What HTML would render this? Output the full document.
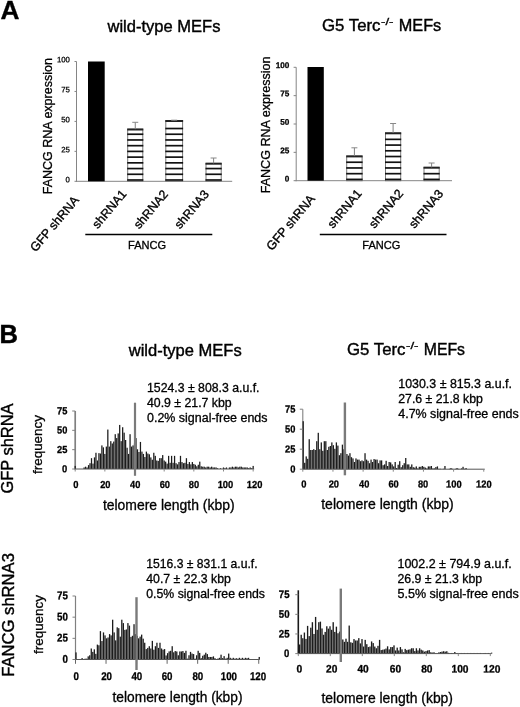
<!DOCTYPE html>
<html lang="en"><head><meta charset="utf-8"><title>Figure</title>
<style>
html,body{margin:0;padding:0;background:#fff;}
svg{display:block;font-family:'Liberation Sans', Arial, Helvetica, sans-serif;}
</style></head><body>
<svg width="520" height="707" viewBox="0 0 520 707">
<rect x="0" y="0" width="520" height="707" fill="#fff"/>
<line x1="76.5" y1="61.5" x2="76.5" y2="181.8" stroke="#858585" stroke-width="1"/>
<line x1="76.0" y1="181.3" x2="232.2" y2="181.3" stroke="#858585" stroke-width="1"/>
<line x1="74.5" y1="61.5" x2="76.5" y2="61.5" stroke="#858585" stroke-width="1"/>
<text x="69.9" y="62.4" font-size="7.8" text-anchor="end" font-weight="normal" fill="#000" stroke="#000" stroke-width="0.25" transform="rotate(0.3 69.9 62.4)">100</text>
<line x1="74.5" y1="91.45" x2="76.5" y2="91.45" stroke="#858585" stroke-width="1"/>
<text x="69.9" y="92.4" font-size="7.8" text-anchor="end" font-weight="normal" fill="#000" stroke="#000" stroke-width="0.25" transform="rotate(0.3 69.9 92.4)">75</text>
<line x1="74.5" y1="121.4" x2="76.5" y2="121.4" stroke="#858585" stroke-width="1"/>
<text x="69.9" y="122.3" font-size="7.8" text-anchor="end" font-weight="normal" fill="#000" stroke="#000" stroke-width="0.25" transform="rotate(0.3 69.9 122.3)">50</text>
<line x1="74.5" y1="151.35000000000002" x2="76.5" y2="151.35000000000002" stroke="#858585" stroke-width="1"/>
<text x="69.9" y="152.3" font-size="7.8" text-anchor="end" font-weight="normal" fill="#000" stroke="#000" stroke-width="0.25" transform="rotate(0.3 69.9 152.3)">25</text>
<line x1="74.5" y1="181.3" x2="76.5" y2="181.3" stroke="#858585" stroke-width="1"/>
<text x="69.9" y="182.2" font-size="7.8" text-anchor="end" font-weight="normal" fill="#000" stroke="#000" stroke-width="0.25" transform="rotate(0.3 69.9 182.2)">0</text>
<rect x="88" y="61.5" width="16.700000000000003" height="119.80000000000001" fill="#000"/>
<rect x="127.7" y="129.2" width="15.100000000000009" height="52.10000000000002" fill="#fff" stroke="#777" stroke-width="1"/>
<line x1="127.2" y1="180.0" x2="143.3" y2="180.0" stroke="#111" stroke-width="1.7"/>
<line x1="127.2" y1="174.28" x2="143.3" y2="174.28" stroke="#111" stroke-width="1.7"/>
<line x1="127.2" y1="168.56" x2="143.3" y2="168.56" stroke="#111" stroke-width="1.7"/>
<line x1="127.2" y1="162.84" x2="143.3" y2="162.84" stroke="#111" stroke-width="1.7"/>
<line x1="127.2" y1="157.12" x2="143.3" y2="157.12" stroke="#111" stroke-width="1.7"/>
<line x1="127.2" y1="151.4" x2="143.3" y2="151.4" stroke="#111" stroke-width="1.7"/>
<line x1="127.2" y1="145.68" x2="143.3" y2="145.68" stroke="#111" stroke-width="1.7"/>
<line x1="127.2" y1="139.96" x2="143.3" y2="139.96" stroke="#111" stroke-width="1.7"/>
<line x1="127.2" y1="134.24" x2="143.3" y2="134.24" stroke="#111" stroke-width="1.7"/>
<line x1="127.2" y1="129.5" x2="143.3" y2="129.5" stroke="#222" stroke-width="2.0"/>
<line x1="135.25" y1="129.2" x2="135.25" y2="122.3" stroke="#808080" stroke-width="1"/>
<line x1="132.25" y1="122.3" x2="138.25" y2="122.3" stroke="#888" stroke-width="1"/>
<rect x="165.8" y="120.7" width="16.799999999999983" height="60.60000000000001" fill="#fff" stroke="#777" stroke-width="1"/>
<line x1="165.3" y1="180.0" x2="183.1" y2="180.0" stroke="#111" stroke-width="1.7"/>
<line x1="165.3" y1="174.28" x2="183.1" y2="174.28" stroke="#111" stroke-width="1.7"/>
<line x1="165.3" y1="168.56" x2="183.1" y2="168.56" stroke="#111" stroke-width="1.7"/>
<line x1="165.3" y1="162.84" x2="183.1" y2="162.84" stroke="#111" stroke-width="1.7"/>
<line x1="165.3" y1="157.12" x2="183.1" y2="157.12" stroke="#111" stroke-width="1.7"/>
<line x1="165.3" y1="151.4" x2="183.1" y2="151.4" stroke="#111" stroke-width="1.7"/>
<line x1="165.3" y1="145.68" x2="183.1" y2="145.68" stroke="#111" stroke-width="1.7"/>
<line x1="165.3" y1="139.96" x2="183.1" y2="139.96" stroke="#111" stroke-width="1.7"/>
<line x1="165.3" y1="134.24" x2="183.1" y2="134.24" stroke="#111" stroke-width="1.7"/>
<line x1="165.3" y1="128.52" x2="183.1" y2="128.52" stroke="#111" stroke-width="1.7"/>
<line x1="165.3" y1="121.0" x2="183.1" y2="121.0" stroke="#222" stroke-width="2.0"/>
<line x1="174.2" y1="120.7" x2="174.2" y2="120.2" stroke="#808080" stroke-width="1"/>
<line x1="171.2" y1="120.2" x2="177.2" y2="120.2" stroke="#888" stroke-width="1"/>
<rect x="206.0" y="163.4" width="15.199999999999989" height="17.900000000000006" fill="#fff" stroke="#777" stroke-width="1"/>
<line x1="205.5" y1="180.0" x2="221.7" y2="180.0" stroke="#111" stroke-width="1.7"/>
<line x1="205.5" y1="174.28" x2="221.7" y2="174.28" stroke="#111" stroke-width="1.7"/>
<line x1="205.5" y1="168.56" x2="221.7" y2="168.56" stroke="#111" stroke-width="1.7"/>
<line x1="205.5" y1="163.70000000000002" x2="221.7" y2="163.70000000000002" stroke="#222" stroke-width="2.0"/>
<line x1="213.6" y1="163.4" x2="213.6" y2="158" stroke="#808080" stroke-width="1"/>
<line x1="210.6" y1="158" x2="216.6" y2="158" stroke="#888" stroke-width="1"/>
<text x="51.7" y="194.3" font-size="12.5" text-anchor="start" font-weight="normal" fill="#000" stroke="#000" stroke-width="0.3" transform="rotate(-90 51.7 194.3)" textLength="136.2" lengthAdjust="spacingAndGlyphs">FANCG RNA expression</text>
<text x="107.5" y="31.6" font-size="16.5" text-anchor="start" font-weight="normal" fill="#000" stroke="#000" stroke-width="0.4" textLength="113" lengthAdjust="spacingAndGlyphs">wild-type MEFs</text>
<text x="0.5" y="18.7" font-size="25" text-anchor="start" font-weight="bold" fill="#000" stroke="#000" stroke-width="0.3" textLength="19" lengthAdjust="spacingAndGlyphs">A</text>
<text x="35.8" y="252.5" font-size="12.4" text-anchor="start" font-weight="normal" fill="#000" stroke="#000" stroke-width="0.35" transform="rotate(-50 35.8 252.5)">GFP shRNA</text>
<text x="97.8" y="229.3" font-size="12.3" text-anchor="start" font-weight="normal" fill="#000" stroke="#000" stroke-width="0.35" transform="rotate(-50 97.8 229.3)">shRNA1</text>
<text x="139.3" y="229.6" font-size="12.3" text-anchor="start" font-weight="normal" fill="#000" stroke="#000" stroke-width="0.35" transform="rotate(-50 139.3 229.6)">shRNA2</text>
<text x="180.1" y="229.6" font-size="12.3" text-anchor="start" font-weight="normal" fill="#000" stroke="#000" stroke-width="0.35" transform="rotate(-50 180.1 229.6)">shRNA3</text>
<line x1="85.3" y1="234.5" x2="212.3" y2="234.5" stroke="#000" stroke-width="1.5"/>
<text x="128.1" y="249.2" font-size="11" text-anchor="start" font-weight="normal" fill="#000" stroke="#000" stroke-width="0.3" textLength="38.1" lengthAdjust="spacingAndGlyphs">FANCG</text>
<line x1="296.2" y1="67.3" x2="296.2" y2="181.2" stroke="#858585" stroke-width="1"/>
<line x1="295.7" y1="180.7" x2="452" y2="180.7" stroke="#858585" stroke-width="1"/>
<line x1="293.59999999999997" y1="67.3" x2="296.2" y2="67.3" stroke="#858585" stroke-width="1"/>
<text x="289.3" y="68.1" font-size="8.2" text-anchor="end" font-weight="bold" fill="#000" stroke="#000" stroke-width="0.25" transform="rotate(0.3 289.3 68.1)">100</text>
<line x1="293.59999999999997" y1="95.64999999999999" x2="296.2" y2="95.64999999999999" stroke="#858585" stroke-width="1"/>
<text x="289.3" y="96.4" font-size="8.2" text-anchor="end" font-weight="bold" fill="#000" stroke="#000" stroke-width="0.25" transform="rotate(0.3 289.3 96.4)">75</text>
<line x1="293.59999999999997" y1="124.0" x2="296.2" y2="124.0" stroke="#858585" stroke-width="1"/>
<text x="289.3" y="124.8" font-size="8.2" text-anchor="end" font-weight="bold" fill="#000" stroke="#000" stroke-width="0.25" transform="rotate(0.3 289.3 124.8)">50</text>
<line x1="293.59999999999997" y1="152.35" x2="296.2" y2="152.35" stroke="#858585" stroke-width="1"/>
<text x="289.3" y="153.2" font-size="8.2" text-anchor="end" font-weight="bold" fill="#000" stroke="#000" stroke-width="0.25" transform="rotate(0.3 289.3 153.2)">25</text>
<line x1="293.59999999999997" y1="180.7" x2="296.2" y2="180.7" stroke="#858585" stroke-width="1"/>
<text x="289.3" y="181.5" font-size="8.2" text-anchor="end" font-weight="bold" fill="#000" stroke="#000" stroke-width="0.25" transform="rotate(0.3 289.3 181.5)">0</text>
<rect x="307.5" y="67" width="16.30000000000001" height="113.69999999999999" fill="#000"/>
<rect x="346.7" y="156.1" width="15.400000000000034" height="24.599999999999994" fill="#fff" stroke="#777" stroke-width="1"/>
<line x1="346.2" y1="179.4" x2="362.6" y2="179.4" stroke="#111" stroke-width="1.7"/>
<line x1="346.2" y1="173.68" x2="362.6" y2="173.68" stroke="#111" stroke-width="1.7"/>
<line x1="346.2" y1="167.96" x2="362.6" y2="167.96" stroke="#111" stroke-width="1.7"/>
<line x1="346.2" y1="162.24" x2="362.6" y2="162.24" stroke="#111" stroke-width="1.7"/>
<line x1="346.2" y1="156.4" x2="362.6" y2="156.4" stroke="#222" stroke-width="2.0"/>
<line x1="354.4" y1="156.1" x2="354.4" y2="147.8" stroke="#808080" stroke-width="1"/>
<line x1="351.4" y1="147.8" x2="357.4" y2="147.8" stroke="#888" stroke-width="1"/>
<rect x="385.5" y="133" width="15.199999999999989" height="47.69999999999999" fill="#fff" stroke="#777" stroke-width="1"/>
<line x1="385" y1="179.4" x2="401.2" y2="179.4" stroke="#111" stroke-width="1.7"/>
<line x1="385" y1="173.68" x2="401.2" y2="173.68" stroke="#111" stroke-width="1.7"/>
<line x1="385" y1="167.96" x2="401.2" y2="167.96" stroke="#111" stroke-width="1.7"/>
<line x1="385" y1="162.24" x2="401.2" y2="162.24" stroke="#111" stroke-width="1.7"/>
<line x1="385" y1="156.52" x2="401.2" y2="156.52" stroke="#111" stroke-width="1.7"/>
<line x1="385" y1="150.8" x2="401.2" y2="150.8" stroke="#111" stroke-width="1.7"/>
<line x1="385" y1="145.08" x2="401.2" y2="145.08" stroke="#111" stroke-width="1.7"/>
<line x1="385" y1="139.36" x2="401.2" y2="139.36" stroke="#111" stroke-width="1.7"/>
<line x1="385" y1="133.3" x2="401.2" y2="133.3" stroke="#222" stroke-width="2.0"/>
<line x1="393.1" y1="133" x2="393.1" y2="123.5" stroke="#808080" stroke-width="1"/>
<line x1="390.1" y1="123.5" x2="396.1" y2="123.5" stroke="#888" stroke-width="1"/>
<rect x="424.0" y="167.4" width="15.199999999999989" height="13.299999999999983" fill="#fff" stroke="#777" stroke-width="1"/>
<line x1="423.5" y1="179.4" x2="439.7" y2="179.4" stroke="#111" stroke-width="1.7"/>
<line x1="423.5" y1="173.68" x2="439.7" y2="173.68" stroke="#111" stroke-width="1.7"/>
<line x1="423.5" y1="167.70000000000002" x2="439.7" y2="167.70000000000002" stroke="#222" stroke-width="2.0"/>
<line x1="431.6" y1="167.4" x2="431.6" y2="163" stroke="#808080" stroke-width="1"/>
<line x1="428.6" y1="163" x2="434.6" y2="163" stroke="#888" stroke-width="1"/>
<text x="269.8" y="193.3" font-size="12.5" text-anchor="start" font-weight="normal" fill="#000" stroke="#000" stroke-width="0.3" transform="rotate(-90 269.8 193.3)" textLength="136.8" lengthAdjust="spacingAndGlyphs">FANCG RNA expression</text>
<text x="322" y="30.5" font-size="16.5" text-anchor="start" font-weight="normal" fill="#000" stroke="#000" stroke-width="0.4" textLength="58.5" lengthAdjust="spacingAndGlyphs">G5 Terc</text>
<text x="381" y="25.3" font-size="9.6" text-anchor="start" font-weight="normal" fill="#000" stroke="#000" stroke-width="0.3" textLength="12.5" lengthAdjust="spacingAndGlyphs">-/-</text>
<text x="398.75" y="30.5" font-size="16.5" text-anchor="start" font-weight="normal" fill="#000" stroke="#000" stroke-width="0.4" textLength="42.5" lengthAdjust="spacingAndGlyphs">MEFs</text>
<text x="272" y="251.2" font-size="12.4" text-anchor="start" font-weight="normal" fill="#000" stroke="#000" stroke-width="0.35" transform="rotate(-50 272 251.2)">GFP shRNA</text>
<text x="333" y="228.9" font-size="12.3" text-anchor="start" font-weight="normal" fill="#000" stroke="#000" stroke-width="0.35" transform="rotate(-50 333 228.9)">shRNA1</text>
<text x="374.5" y="228.9" font-size="12.3" text-anchor="start" font-weight="normal" fill="#000" stroke="#000" stroke-width="0.35" transform="rotate(-50 374.5 228.9)">shRNA2</text>
<text x="414.5" y="229.1" font-size="12.3" text-anchor="start" font-weight="normal" fill="#000" stroke="#000" stroke-width="0.35" transform="rotate(-50 414.5 229.1)">shRNA3</text>
<line x1="319.8" y1="234.5" x2="446.5" y2="234.5" stroke="#000" stroke-width="1.5"/>
<text x="362.3" y="249.2" font-size="11" text-anchor="start" font-weight="normal" fill="#000" stroke="#000" stroke-width="0.3" textLength="38.1" lengthAdjust="spacingAndGlyphs">FANCG</text>
<text x="-0.4" y="343" font-size="25.5" text-anchor="start" font-weight="bold" fill="#000" stroke="#000" stroke-width="0.5">B</text>
<text x="128.75" y="355.9" font-size="16.5" text-anchor="start" font-weight="normal" fill="#000" stroke="#000" stroke-width="0.4" textLength="113" lengthAdjust="spacingAndGlyphs">wild-type MEFs</text>
<text x="347" y="355" font-size="16.5" text-anchor="start" font-weight="normal" fill="#000" stroke="#000" stroke-width="0.4" textLength="58.5" lengthAdjust="spacingAndGlyphs">G5 Terc</text>
<text x="406" y="348.7" font-size="9.6" text-anchor="start" font-weight="normal" fill="#000" stroke="#000" stroke-width="0.3" textLength="12.5" lengthAdjust="spacingAndGlyphs">-/-</text>
<text x="423.75" y="355" font-size="16.5" text-anchor="start" font-weight="normal" fill="#000" stroke="#000" stroke-width="0.4" textLength="41.25" lengthAdjust="spacingAndGlyphs">MEFs</text>
<line x1="75.2" y1="411" x2="75.2" y2="469.5" stroke="#808080" stroke-width="1.7"/>
<rect x="74.57" y="465.91" width="1.26" height="3.09" fill="#1c1c1c"/>
<rect x="83.47" y="467.45" width="1.26" height="1.55" fill="#1c1c1c"/>
<rect x="84.95" y="466.68" width="1.26" height="2.32" fill="#1c1c1c"/>
<rect x="86.43" y="467.45" width="1.26" height="1.55" fill="#1c1c1c"/>
<rect x="87.92" y="465.13" width="1.26" height="3.87" fill="#1c1c1c"/>
<rect x="89.4" y="463.2" width="1.26" height="5.8" fill="#1c1c1c"/>
<rect x="90.88" y="458.17" width="1.26" height="10.83" fill="#1c1c1c"/>
<rect x="92.37" y="463.59" width="1.26" height="5.41" fill="#1c1c1c"/>
<rect x="93.85" y="457.4" width="1.26" height="11.6" fill="#1c1c1c"/>
<rect x="95.33" y="452.76" width="1.26" height="16.24" fill="#1c1c1c"/>
<rect x="96.82" y="460.49" width="1.26" height="8.51" fill="#1c1c1c"/>
<rect x="98.3" y="453.15" width="1.26" height="15.85" fill="#1c1c1c"/>
<rect x="99.78" y="453.53" width="1.26" height="15.47" fill="#1c1c1c"/>
<rect x="101.26" y="445.41" width="1.26" height="23.59" fill="#1c1c1c"/>
<rect x="102.75" y="447.35" width="1.26" height="21.65" fill="#1c1c1c"/>
<rect x="104.23" y="453.92" width="1.26" height="15.08" fill="#1c1c1c"/>
<rect x="105.71" y="446.57" width="1.26" height="22.43" fill="#1c1c1c"/>
<rect x="107.2" y="429.56" width="1.26" height="39.44" fill="#1c1c1c"/>
<rect x="108.68" y="446.57" width="1.26" height="22.43" fill="#1c1c1c"/>
<rect x="110.16" y="441.16" width="1.26" height="27.84" fill="#1c1c1c"/>
<rect x="111.65" y="443.48" width="1.26" height="25.52" fill="#1c1c1c"/>
<rect x="113.13" y="441.55" width="1.26" height="27.45" fill="#1c1c1c"/>
<rect x="114.61" y="434.2" width="1.26" height="34.8" fill="#1c1c1c"/>
<rect x="116.09" y="438.07" width="1.26" height="30.93" fill="#1c1c1c"/>
<rect x="117.58" y="433.43" width="1.26" height="35.57" fill="#1c1c1c"/>
<rect x="119.06" y="424.92" width="1.26" height="44.08" fill="#1c1c1c"/>
<rect x="120.54" y="441.16" width="1.26" height="27.84" fill="#1c1c1c"/>
<rect x="122.03" y="427.24" width="1.26" height="41.76" fill="#1c1c1c"/>
<rect x="123.51" y="432.65" width="1.26" height="36.35" fill="#1c1c1c"/>
<rect x="124.99" y="440.0" width="1.26" height="29.0" fill="#1c1c1c"/>
<rect x="126.48" y="447.73" width="1.26" height="21.27" fill="#1c1c1c"/>
<rect x="127.96" y="453.92" width="1.26" height="15.08" fill="#1c1c1c"/>
<rect x="129.44" y="434.2" width="1.26" height="34.8" fill="#1c1c1c"/>
<rect x="130.92" y="446.57" width="1.26" height="22.43" fill="#1c1c1c"/>
<rect x="132.41" y="445.41" width="1.26" height="23.59" fill="#1c1c1c"/>
<rect x="133.89" y="443.48" width="1.26" height="25.52" fill="#1c1c1c"/>
<rect x="135.37" y="438.07" width="1.26" height="30.93" fill="#1c1c1c"/>
<rect x="136.86" y="449.28" width="1.26" height="19.72" fill="#1c1c1c"/>
<rect x="138.34" y="451.99" width="1.26" height="17.01" fill="#1c1c1c"/>
<rect x="139.82" y="441.93" width="1.26" height="27.07" fill="#1c1c1c"/>
<rect x="141.31" y="451.6" width="1.26" height="17.4" fill="#1c1c1c"/>
<rect x="142.79" y="453.92" width="1.26" height="15.08" fill="#1c1c1c"/>
<rect x="144.27" y="457.01" width="1.26" height="11.99" fill="#1c1c1c"/>
<rect x="145.75" y="451.6" width="1.26" height="17.4" fill="#1c1c1c"/>
<rect x="147.24" y="453.53" width="1.26" height="15.47" fill="#1c1c1c"/>
<rect x="148.72" y="454.31" width="1.26" height="14.69" fill="#1c1c1c"/>
<rect x="150.2" y="457.4" width="1.26" height="11.6" fill="#1c1c1c"/>
<rect x="151.69" y="459.72" width="1.26" height="9.28" fill="#1c1c1c"/>
<rect x="153.17" y="452.76" width="1.26" height="16.24" fill="#1c1c1c"/>
<rect x="154.65" y="455.85" width="1.26" height="13.15" fill="#1c1c1c"/>
<rect x="156.14" y="460.49" width="1.26" height="8.51" fill="#1c1c1c"/>
<rect x="157.62" y="460.88" width="1.26" height="8.12" fill="#1c1c1c"/>
<rect x="159.1" y="458.17" width="1.26" height="10.83" fill="#1c1c1c"/>
<rect x="160.58" y="458.17" width="1.26" height="10.83" fill="#1c1c1c"/>
<rect x="162.07" y="455.08" width="1.26" height="13.92" fill="#1c1c1c"/>
<rect x="163.55" y="460.49" width="1.26" height="8.51" fill="#1c1c1c"/>
<rect x="165.03" y="461.65" width="1.26" height="7.35" fill="#1c1c1c"/>
<rect x="166.52" y="463.59" width="1.26" height="5.41" fill="#1c1c1c"/>
<rect x="168.0" y="455.85" width="1.26" height="13.15" fill="#1c1c1c"/>
<rect x="169.48" y="462.81" width="1.26" height="6.19" fill="#1c1c1c"/>
<rect x="170.97" y="455.85" width="1.26" height="13.15" fill="#1c1c1c"/>
<rect x="172.45" y="462.81" width="1.26" height="6.19" fill="#1c1c1c"/>
<rect x="173.93" y="455.85" width="1.26" height="13.15" fill="#1c1c1c"/>
<rect x="175.41" y="463.2" width="1.26" height="5.8" fill="#1c1c1c"/>
<rect x="176.9" y="464.36" width="1.26" height="4.64" fill="#1c1c1c"/>
<rect x="178.38" y="462.04" width="1.26" height="6.96" fill="#1c1c1c"/>
<rect x="179.86" y="455.85" width="1.26" height="13.15" fill="#1c1c1c"/>
<rect x="181.35" y="462.04" width="1.26" height="6.96" fill="#1c1c1c"/>
<rect x="182.83" y="463.2" width="1.26" height="5.8" fill="#1c1c1c"/>
<rect x="184.31" y="462.81" width="1.26" height="6.19" fill="#1c1c1c"/>
<rect x="185.8" y="458.17" width="1.26" height="10.83" fill="#1c1c1c"/>
<rect x="187.28" y="463.97" width="1.26" height="5.03" fill="#1c1c1c"/>
<rect x="188.76" y="462.04" width="1.26" height="6.96" fill="#1c1c1c"/>
<rect x="190.24" y="464.36" width="1.26" height="4.64" fill="#1c1c1c"/>
<rect x="191.73" y="462.04" width="1.26" height="6.96" fill="#1c1c1c"/>
<rect x="193.21" y="463.97" width="1.26" height="5.03" fill="#1c1c1c"/>
<rect x="194.69" y="464.75" width="1.26" height="4.25" fill="#1c1c1c"/>
<rect x="196.18" y="466.29" width="1.26" height="2.71" fill="#1c1c1c"/>
<rect x="197.66" y="464.75" width="1.26" height="4.25" fill="#1c1c1c"/>
<rect x="199.14" y="461.65" width="1.26" height="7.35" fill="#1c1c1c"/>
<rect x="200.62" y="466.29" width="1.26" height="2.71" fill="#1c1c1c"/>
<rect x="202.11" y="466.68" width="1.26" height="2.32" fill="#1c1c1c"/>
<rect x="203.59" y="466.68" width="1.26" height="2.32" fill="#1c1c1c"/>
<rect x="205.07" y="467.45" width="1.26" height="1.55" fill="#1c1c1c"/>
<rect x="206.56" y="466.68" width="1.26" height="2.32" fill="#1c1c1c"/>
<rect x="208.04" y="466.68" width="1.26" height="2.32" fill="#1c1c1c"/>
<rect x="209.52" y="467.45" width="1.26" height="1.55" fill="#1c1c1c"/>
<rect x="211.01" y="466.68" width="1.26" height="2.32" fill="#1c1c1c"/>
<rect x="212.49" y="467.45" width="1.26" height="1.55" fill="#1c1c1c"/>
<rect x="213.97" y="467.45" width="1.26" height="1.55" fill="#1c1c1c"/>
<rect x="215.46" y="467.45" width="1.26" height="1.55" fill="#1c1c1c"/>
<rect x="216.94" y="468.23" width="1.26" height="0.77" fill="#1c1c1c"/>
<rect x="219.9" y="468.23" width="1.26" height="0.77" fill="#1c1c1c"/>
<rect x="222.87" y="467.45" width="1.26" height="1.55" fill="#1c1c1c"/>
<rect x="224.35" y="468.23" width="1.26" height="0.77" fill="#1c1c1c"/>
<rect x="225.84" y="467.45" width="1.26" height="1.55" fill="#1c1c1c"/>
<rect x="228.8" y="467.45" width="1.26" height="1.55" fill="#1c1c1c"/>
<rect x="230.29" y="467.45" width="1.26" height="1.55" fill="#1c1c1c"/>
<rect x="231.77" y="466.68" width="1.26" height="2.32" fill="#1c1c1c"/>
<rect x="233.25" y="467.45" width="1.26" height="1.55" fill="#1c1c1c"/>
<rect x="234.73" y="466.68" width="1.26" height="2.32" fill="#1c1c1c"/>
<rect x="236.22" y="466.68" width="1.26" height="2.32" fill="#1c1c1c"/>
<rect x="237.7" y="467.45" width="1.26" height="1.55" fill="#1c1c1c"/>
<rect x="239.18" y="466.68" width="1.26" height="2.32" fill="#1c1c1c"/>
<rect x="240.67" y="466.68" width="1.26" height="2.32" fill="#1c1c1c"/>
<rect x="242.15" y="467.45" width="1.26" height="1.55" fill="#1c1c1c"/>
<rect x="243.63" y="467.45" width="1.26" height="1.55" fill="#1c1c1c"/>
<rect x="245.12" y="467.45" width="1.26" height="1.55" fill="#1c1c1c"/>
<rect x="246.6" y="467.45" width="1.26" height="1.55" fill="#1c1c1c"/>
<rect x="248.08" y="468.23" width="1.26" height="0.77" fill="#1c1c1c"/>
<rect x="249.56" y="467.45" width="1.26" height="1.55" fill="#1c1c1c"/>
<rect x="251.05" y="468.23" width="1.26" height="0.77" fill="#1c1c1c"/>
<rect x="252.53" y="465.91" width="1.26" height="3.09" fill="#1c1c1c"/>
<line x1="74.7" y1="469" x2="254.16000000000003" y2="469" stroke="#555" stroke-width="1"/>
<line x1="72.2" y1="411.0" x2="75.2" y2="411.0" stroke="#808080" stroke-width="1"/>
<text x="57.0" y="414.3" font-size="10.2" text-anchor="start" font-weight="bold" fill="#000" stroke="#000" stroke-width="0.3" transform="rotate(0.3 57.0 414.3)" textLength="10.3" lengthAdjust="spacingAndGlyphs">75</text>
<line x1="72.2" y1="430.3333333333333" x2="75.2" y2="430.3333333333333" stroke="#808080" stroke-width="1"/>
<text x="57.0" y="433.6" font-size="10.2" text-anchor="start" font-weight="bold" fill="#000" stroke="#000" stroke-width="0.3" transform="rotate(0.3 57.0 433.6)" textLength="10.3" lengthAdjust="spacingAndGlyphs">50</text>
<line x1="72.2" y1="449.6666666666667" x2="75.2" y2="449.6666666666667" stroke="#808080" stroke-width="1"/>
<text x="57.0" y="453.0" font-size="10.2" text-anchor="start" font-weight="bold" fill="#000" stroke="#000" stroke-width="0.3" transform="rotate(0.3 57.0 453.0)" textLength="10.3" lengthAdjust="spacingAndGlyphs">25</text>
<line x1="72.2" y1="469.0" x2="75.2" y2="469.0" stroke="#808080" stroke-width="1"/>
<text x="62.1" y="472.3" font-size="10.2" text-anchor="start" font-weight="bold" fill="#000" stroke="#000" stroke-width="0.3" transform="rotate(0.3 62.1 472.3)" textLength="5.2" lengthAdjust="spacingAndGlyphs">0</text>
<line x1="75.2" y1="469" x2="75.2" y2="471.5" stroke="#888" stroke-width="1"/>
<text x="73.2" y="488" font-size="10.2" text-anchor="start" font-weight="bold" fill="#000" stroke="#000" stroke-width="0.3" transform="rotate(0.3 73.2 488)" textLength="5.2" lengthAdjust="spacingAndGlyphs">0</text>
<line x1="104.86000000000001" y1="469" x2="104.86000000000001" y2="471.5" stroke="#888" stroke-width="1"/>
<text x="100.2" y="488" font-size="10.2" text-anchor="start" font-weight="bold" fill="#000" stroke="#000" stroke-width="0.3" transform="rotate(0.3 100.2 488)" textLength="10.3" lengthAdjust="spacingAndGlyphs">20</text>
<line x1="134.52" y1="469" x2="134.52" y2="471.5" stroke="#888" stroke-width="1"/>
<text x="130.0" y="488" font-size="10.2" text-anchor="start" font-weight="bold" fill="#000" stroke="#000" stroke-width="0.3" transform="rotate(0.3 130.0 488)" textLength="10.3" lengthAdjust="spacingAndGlyphs">40</text>
<line x1="164.18" y1="469" x2="164.18" y2="471.5" stroke="#888" stroke-width="1"/>
<text x="159.7" y="488" font-size="10.2" text-anchor="start" font-weight="bold" fill="#000" stroke="#000" stroke-width="0.3" transform="rotate(0.3 159.7 488)" textLength="10.3" lengthAdjust="spacingAndGlyphs">60</text>
<line x1="193.84000000000003" y1="469" x2="193.84000000000003" y2="471.5" stroke="#888" stroke-width="1"/>
<text x="188.8" y="488" font-size="10.2" text-anchor="start" font-weight="bold" fill="#000" stroke="#000" stroke-width="0.3" transform="rotate(0.3 188.8 488)" textLength="10.3" lengthAdjust="spacingAndGlyphs">80</text>
<line x1="223.5" y1="469" x2="223.5" y2="471.5" stroke="#888" stroke-width="1"/>
<text x="217.7" y="488" font-size="10.2" text-anchor="start" font-weight="bold" fill="#000" stroke="#000" stroke-width="0.3" transform="rotate(0.3 217.7 488)" textLength="15.5" lengthAdjust="spacingAndGlyphs">100</text>
<line x1="253.16000000000003" y1="469" x2="253.16000000000003" y2="471.5" stroke="#888" stroke-width="1"/>
<text x="246.8" y="488" font-size="10.2" text-anchor="start" font-weight="bold" fill="#000" stroke="#000" stroke-width="0.3" transform="rotate(0.3 246.8 488)" textLength="15.5" lengthAdjust="spacingAndGlyphs">120</text>
<line x1="135" y1="402.7" x2="135" y2="475.8" stroke="#7a7a7a" stroke-width="2.2"/>
<text x="147" y="392" font-size="12.3" text-anchor="start" font-weight="normal" fill="#000" stroke="#000" stroke-width="0.3" textLength="112.5" lengthAdjust="spacingAndGlyphs">1524.3 ± 808.3 a.u.f.</text>
<text x="147" y="407" font-size="12.3" text-anchor="start" font-weight="normal" fill="#000" stroke="#000" stroke-width="0.3">40.9 ± 21.7 kbp</text>
<text x="147" y="422" font-size="12.3" text-anchor="start" font-weight="normal" fill="#000" stroke="#000" stroke-width="0.3" textLength="120.5" lengthAdjust="spacingAndGlyphs">0.2% signal-free ends</text>
<text x="102.9" y="509.5" font-size="13.9" text-anchor="start" font-weight="normal" fill="#000" stroke="#000" stroke-width="0.3" textLength="131.7" lengthAdjust="spacingAndGlyphs">telomere length (kbp)</text>
<line x1="302.8" y1="409.2" x2="302.8" y2="469.7" stroke="#808080" stroke-width="1.1"/>
<rect x="302.56" y="421.2" width="1.28" height="48.0" fill="#1c1c1c"/>
<rect x="304.07" y="462.8" width="1.28" height="6.4" fill="#1c1c1c"/>
<rect x="305.58" y="456.4" width="1.28" height="12.8" fill="#1c1c1c"/>
<rect x="307.08" y="458.8" width="1.28" height="10.4" fill="#1c1c1c"/>
<rect x="308.59" y="439.2" width="1.28" height="30.0" fill="#1c1c1c"/>
<rect x="310.1" y="450.0" width="1.28" height="19.2" fill="#1c1c1c"/>
<rect x="311.61" y="450.0" width="1.28" height="19.2" fill="#1c1c1c"/>
<rect x="313.12" y="449.2" width="1.28" height="20.0" fill="#1c1c1c"/>
<rect x="314.62" y="450.0" width="1.28" height="19.2" fill="#1c1c1c"/>
<rect x="316.13" y="441.2" width="1.28" height="28.0" fill="#1c1c1c"/>
<rect x="317.64" y="432.8" width="1.28" height="36.4" fill="#1c1c1c"/>
<rect x="319.15" y="449.2" width="1.28" height="20.0" fill="#1c1c1c"/>
<rect x="320.66" y="442.4" width="1.28" height="26.8" fill="#1c1c1c"/>
<rect x="322.16" y="450.8" width="1.28" height="18.4" fill="#1c1c1c"/>
<rect x="323.67" y="441.2" width="1.28" height="28.0" fill="#1c1c1c"/>
<rect x="325.18" y="441.2" width="1.28" height="28.0" fill="#1c1c1c"/>
<rect x="326.69" y="450.0" width="1.28" height="19.2" fill="#1c1c1c"/>
<rect x="328.2" y="446.8" width="1.28" height="22.4" fill="#1c1c1c"/>
<rect x="329.7" y="446.0" width="1.28" height="23.2" fill="#1c1c1c"/>
<rect x="331.21" y="442.4" width="1.28" height="26.8" fill="#1c1c1c"/>
<rect x="332.72" y="445.2" width="1.28" height="24.0" fill="#1c1c1c"/>
<rect x="334.23" y="448.8" width="1.28" height="20.4" fill="#1c1c1c"/>
<rect x="335.74" y="442.4" width="1.28" height="26.8" fill="#1c1c1c"/>
<rect x="337.24" y="445.6" width="1.28" height="23.6" fill="#1c1c1c"/>
<rect x="338.75" y="455.2" width="1.28" height="14.0" fill="#1c1c1c"/>
<rect x="340.26" y="453.2" width="1.28" height="16.0" fill="#1c1c1c"/>
<rect x="341.77" y="444.64" width="1.28" height="24.56" fill="#1c1c1c"/>
<rect x="343.28" y="449.2" width="1.28" height="20.0" fill="#1c1c1c"/>
<rect x="344.78" y="451.6" width="1.28" height="17.6" fill="#1c1c1c"/>
<rect x="346.29" y="454.0" width="1.28" height="15.2" fill="#1c1c1c"/>
<rect x="347.8" y="455.6" width="1.28" height="13.6" fill="#1c1c1c"/>
<rect x="349.31" y="453.2" width="1.28" height="16.0" fill="#1c1c1c"/>
<rect x="350.82" y="457.2" width="1.28" height="12.0" fill="#1c1c1c"/>
<rect x="352.32" y="458.4" width="1.28" height="10.8" fill="#1c1c1c"/>
<rect x="353.83" y="462.0" width="1.28" height="7.2" fill="#1c1c1c"/>
<rect x="355.34" y="458.4" width="1.28" height="10.8" fill="#1c1c1c"/>
<rect x="356.85" y="459.6" width="1.28" height="9.6" fill="#1c1c1c"/>
<rect x="358.36" y="459.6" width="1.28" height="9.6" fill="#1c1c1c"/>
<rect x="359.86" y="461.2" width="1.28" height="8.0" fill="#1c1c1c"/>
<rect x="361.37" y="460.4" width="1.28" height="8.8" fill="#1c1c1c"/>
<rect x="362.88" y="461.2" width="1.28" height="8.0" fill="#1c1c1c"/>
<rect x="364.39" y="453.2" width="1.28" height="16.0" fill="#1c1c1c"/>
<rect x="365.9" y="459.6" width="1.28" height="9.6" fill="#1c1c1c"/>
<rect x="367.4" y="460.8" width="1.28" height="8.4" fill="#1c1c1c"/>
<rect x="368.91" y="463.2" width="1.28" height="6.0" fill="#1c1c1c"/>
<rect x="370.42" y="459.6" width="1.28" height="9.6" fill="#1c1c1c"/>
<rect x="371.93" y="462.0" width="1.28" height="7.2" fill="#1c1c1c"/>
<rect x="373.44" y="459.04" width="1.28" height="10.16" fill="#1c1c1c"/>
<rect x="374.94" y="459.6" width="1.28" height="9.6" fill="#1c1c1c"/>
<rect x="376.45" y="459.6" width="1.28" height="9.6" fill="#1c1c1c"/>
<rect x="377.96" y="463.2" width="1.28" height="6.0" fill="#1c1c1c"/>
<rect x="379.47" y="460.4" width="1.28" height="8.8" fill="#1c1c1c"/>
<rect x="380.98" y="460.4" width="1.28" height="8.8" fill="#1c1c1c"/>
<rect x="382.48" y="465.2" width="1.28" height="4.0" fill="#1c1c1c"/>
<rect x="383.99" y="464.4" width="1.28" height="4.8" fill="#1c1c1c"/>
<rect x="385.5" y="460.8" width="1.28" height="8.4" fill="#1c1c1c"/>
<rect x="387.01" y="466.0" width="1.28" height="3.2" fill="#1c1c1c"/>
<rect x="388.52" y="462.0" width="1.28" height="7.2" fill="#1c1c1c"/>
<rect x="390.02" y="462.4" width="1.28" height="6.8" fill="#1c1c1c"/>
<rect x="391.53" y="464.4" width="1.28" height="4.8" fill="#1c1c1c"/>
<rect x="393.04" y="466.4" width="1.28" height="2.8" fill="#1c1c1c"/>
<rect x="394.55" y="462.0" width="1.28" height="7.2" fill="#1c1c1c"/>
<rect x="396.06" y="468.0" width="1.28" height="1.2" fill="#1c1c1c"/>
<rect x="397.56" y="464.72" width="1.28" height="4.48" fill="#1c1c1c"/>
<rect x="399.07" y="461.2" width="1.28" height="8.0" fill="#1c1c1c"/>
<rect x="400.58" y="467.2" width="1.28" height="2.0" fill="#1c1c1c"/>
<rect x="402.09" y="465.2" width="1.28" height="4.0" fill="#1c1c1c"/>
<rect x="403.6" y="463.2" width="1.28" height="6.0" fill="#1c1c1c"/>
<rect x="405.1" y="458.0" width="1.28" height="11.2" fill="#1c1c1c"/>
<rect x="406.61" y="464.4" width="1.28" height="4.8" fill="#1c1c1c"/>
<rect x="408.12" y="464.4" width="1.28" height="4.8" fill="#1c1c1c"/>
<rect x="409.63" y="466.8" width="1.28" height="2.4" fill="#1c1c1c"/>
<rect x="411.14" y="464.4" width="1.28" height="4.8" fill="#1c1c1c"/>
<rect x="412.64" y="467.2" width="1.28" height="2.0" fill="#1c1c1c"/>
<rect x="414.15" y="467.6" width="1.28" height="1.6" fill="#1c1c1c"/>
<rect x="415.66" y="466.4" width="1.28" height="2.8" fill="#1c1c1c"/>
<rect x="417.17" y="468.4" width="1.28" height="0.8" fill="#1c1c1c"/>
<rect x="418.68" y="466.8" width="1.28" height="2.4" fill="#1c1c1c"/>
<rect x="420.18" y="466.8" width="1.28" height="2.4" fill="#1c1c1c"/>
<rect x="421.69" y="466.0" width="1.28" height="3.2" fill="#1c1c1c"/>
<rect x="423.2" y="466.8" width="1.28" height="2.4" fill="#1c1c1c"/>
<rect x="424.71" y="467.6" width="1.28" height="1.6" fill="#1c1c1c"/>
<rect x="426.22" y="468.4" width="1.28" height="0.8" fill="#1c1c1c"/>
<rect x="427.72" y="466.4" width="1.28" height="2.8" fill="#1c1c1c"/>
<rect x="429.23" y="466.4" width="1.28" height="2.8" fill="#1c1c1c"/>
<rect x="430.74" y="466.0" width="1.28" height="3.2" fill="#1c1c1c"/>
<rect x="432.25" y="468.4" width="1.28" height="0.8" fill="#1c1c1c"/>
<rect x="433.76" y="468.4" width="1.28" height="0.8" fill="#1c1c1c"/>
<rect x="435.26" y="467.04" width="1.28" height="2.16" fill="#1c1c1c"/>
<rect x="436.77" y="466.4" width="1.28" height="2.8" fill="#1c1c1c"/>
<rect x="438.28" y="468.8" width="1.28" height="0.4" fill="#1c1c1c"/>
<rect x="439.79" y="468.8" width="1.28" height="0.4" fill="#1c1c1c"/>
<rect x="442.8" y="468.8" width="1.28" height="0.4" fill="#1c1c1c"/>
<rect x="444.31" y="466.0" width="1.28" height="3.2" fill="#1c1c1c"/>
<rect x="448.84" y="468.8" width="1.28" height="0.4" fill="#1c1c1c"/>
<rect x="450.34" y="468.0" width="1.28" height="1.2" fill="#1c1c1c"/>
<rect x="451.85" y="468.8" width="1.28" height="0.4" fill="#1c1c1c"/>
<rect x="454.87" y="468.8" width="1.28" height="0.4" fill="#1c1c1c"/>
<rect x="456.38" y="468.0" width="1.28" height="1.2" fill="#1c1c1c"/>
<rect x="457.88" y="468.8" width="1.28" height="0.4" fill="#1c1c1c"/>
<rect x="460.9" y="468.4" width="1.28" height="0.8" fill="#1c1c1c"/>
<rect x="462.41" y="466.8" width="1.28" height="2.4" fill="#1c1c1c"/>
<rect x="463.92" y="468.8" width="1.28" height="0.4" fill="#1c1c1c"/>
<rect x="465.42" y="468.0" width="1.28" height="1.2" fill="#1c1c1c"/>
<line x1="302.3" y1="469.2" x2="484.76" y2="469.2" stroke="#555" stroke-width="1"/>
<line x1="299.8" y1="409.2" x2="302.8" y2="409.2" stroke="#808080" stroke-width="1"/>
<text x="285.0" y="412.4" font-size="10.2" text-anchor="start" font-weight="bold" fill="#000" stroke="#000" stroke-width="0.3" transform="rotate(0.3 285.0 412.4)" textLength="10.3" lengthAdjust="spacingAndGlyphs">75</text>
<line x1="299.8" y1="429.2" x2="302.8" y2="429.2" stroke="#808080" stroke-width="1"/>
<text x="285.0" y="432.4" font-size="10.2" text-anchor="start" font-weight="bold" fill="#000" stroke="#000" stroke-width="0.3" transform="rotate(0.3 285.0 432.4)" textLength="10.3" lengthAdjust="spacingAndGlyphs">50</text>
<line x1="299.8" y1="449.2" x2="302.8" y2="449.2" stroke="#808080" stroke-width="1"/>
<text x="285.0" y="452.4" font-size="10.2" text-anchor="start" font-weight="bold" fill="#000" stroke="#000" stroke-width="0.3" transform="rotate(0.3 285.0 452.4)" textLength="10.3" lengthAdjust="spacingAndGlyphs">25</text>
<line x1="299.8" y1="469.2" x2="302.8" y2="469.2" stroke="#808080" stroke-width="1"/>
<text x="290.2" y="472.4" font-size="10.2" text-anchor="start" font-weight="bold" fill="#000" stroke="#000" stroke-width="0.3" transform="rotate(0.3 290.2 472.4)" textLength="5.2" lengthAdjust="spacingAndGlyphs">0</text>
<line x1="302.8" y1="469.2" x2="302.8" y2="471.7" stroke="#888" stroke-width="1"/>
<text x="301.2" y="487.6" font-size="10.2" text-anchor="start" font-weight="bold" fill="#000" stroke="#000" stroke-width="0.3" transform="rotate(0.3 301.2 487.6)" textLength="5.2" lengthAdjust="spacingAndGlyphs">0</text>
<line x1="332.96000000000004" y1="469.2" x2="332.96000000000004" y2="471.7" stroke="#888" stroke-width="1"/>
<text x="328.7" y="487.6" font-size="10.2" text-anchor="start" font-weight="bold" fill="#000" stroke="#000" stroke-width="0.3" transform="rotate(0.3 328.7 487.6)" textLength="10.3" lengthAdjust="spacingAndGlyphs">20</text>
<line x1="363.12" y1="469.2" x2="363.12" y2="471.7" stroke="#888" stroke-width="1"/>
<text x="359.1" y="487.6" font-size="10.2" text-anchor="start" font-weight="bold" fill="#000" stroke="#000" stroke-width="0.3" transform="rotate(0.3 359.1 487.6)" textLength="10.3" lengthAdjust="spacingAndGlyphs">40</text>
<line x1="393.28000000000003" y1="469.2" x2="393.28000000000003" y2="471.7" stroke="#888" stroke-width="1"/>
<text x="388.4" y="487.6" font-size="10.2" text-anchor="start" font-weight="bold" fill="#000" stroke="#000" stroke-width="0.3" transform="rotate(0.3 388.4 487.6)" textLength="10.3" lengthAdjust="spacingAndGlyphs">60</text>
<line x1="423.44" y1="469.2" x2="423.44" y2="471.7" stroke="#888" stroke-width="1"/>
<text x="417.9" y="487.6" font-size="10.2" text-anchor="start" font-weight="bold" fill="#000" stroke="#000" stroke-width="0.3" transform="rotate(0.3 417.9 487.6)" textLength="10.3" lengthAdjust="spacingAndGlyphs">80</text>
<line x1="453.6" y1="469.2" x2="453.6" y2="471.7" stroke="#888" stroke-width="1"/>
<text x="446.1" y="487.6" font-size="10.2" text-anchor="start" font-weight="bold" fill="#000" stroke="#000" stroke-width="0.3" transform="rotate(0.3 446.1 487.6)" textLength="15.5" lengthAdjust="spacingAndGlyphs">100</text>
<line x1="483.76" y1="469.2" x2="483.76" y2="471.7" stroke="#888" stroke-width="1"/>
<text x="476.1" y="487.6" font-size="10.2" text-anchor="start" font-weight="bold" fill="#000" stroke="#000" stroke-width="0.3" transform="rotate(0.3 476.1 487.6)" textLength="15.5" lengthAdjust="spacingAndGlyphs">120</text>
<line x1="344.9" y1="402.5" x2="344.9" y2="475.3" stroke="#7a7a7a" stroke-width="2.4"/>
<text x="398.25" y="388" font-size="12.3" text-anchor="start" font-weight="normal" fill="#000" stroke="#000" stroke-width="0.3" textLength="113.75" lengthAdjust="spacingAndGlyphs">1030.3 ± 815.3 a.u.f.</text>
<text x="398.25" y="403" font-size="12.3" text-anchor="start" font-weight="normal" fill="#000" stroke="#000" stroke-width="0.3">27.6 ± 21.8 kbp</text>
<text x="398.25" y="418" font-size="12.3" text-anchor="start" font-weight="normal" fill="#000" stroke="#000" stroke-width="0.3" textLength="120.5" lengthAdjust="spacingAndGlyphs">4.7% signal-free ends</text>
<text x="321.2" y="508.5" font-size="13.9" text-anchor="start" font-weight="normal" fill="#000" stroke="#000" stroke-width="0.3" textLength="132.6" lengthAdjust="spacingAndGlyphs">telomere length (kbp)</text>
<line x1="75.5" y1="596" x2="75.5" y2="660.0" stroke="#808080" stroke-width="1.2"/>
<rect x="75.35" y="652.39" width="1.3" height="7.11" fill="#1c1c1c"/>
<rect x="81.46" y="658.06" width="1.3" height="1.44" fill="#1c1c1c"/>
<rect x="84.51" y="658.65" width="1.3" height="0.85" fill="#1c1c1c"/>
<rect x="86.04" y="658.65" width="1.3" height="0.85" fill="#1c1c1c"/>
<rect x="87.57" y="656.37" width="1.3" height="3.13" fill="#1c1c1c"/>
<rect x="89.09" y="655.27" width="1.3" height="4.23" fill="#1c1c1c"/>
<rect x="90.62" y="648.49" width="1.3" height="11.01" fill="#1c1c1c"/>
<rect x="92.15" y="651.88" width="1.3" height="7.62" fill="#1c1c1c"/>
<rect x="93.67" y="649.34" width="1.3" height="10.16" fill="#1c1c1c"/>
<rect x="95.2" y="653.83" width="1.3" height="5.67" fill="#1c1c1c"/>
<rect x="96.73" y="644.6" width="1.3" height="14.9" fill="#1c1c1c"/>
<rect x="98.25" y="645.28" width="1.3" height="14.22" fill="#1c1c1c"/>
<rect x="99.78" y="631.14" width="1.3" height="28.36" fill="#1c1c1c"/>
<rect x="101.31" y="641.04" width="1.3" height="18.46" fill="#1c1c1c"/>
<rect x="102.84" y="632.41" width="1.3" height="27.09" fill="#1c1c1c"/>
<rect x="104.36" y="635.37" width="1.3" height="24.13" fill="#1c1c1c"/>
<rect x="105.89" y="638.33" width="1.3" height="21.17" fill="#1c1c1c"/>
<rect x="107.42" y="637.49" width="1.3" height="22.01" fill="#1c1c1c"/>
<rect x="108.94" y="634.1" width="1.3" height="25.4" fill="#1c1c1c"/>
<rect x="110.47" y="635.37" width="1.3" height="24.13" fill="#1c1c1c"/>
<rect x="112.0" y="619.71" width="1.3" height="39.79" fill="#1c1c1c"/>
<rect x="113.52" y="632.41" width="1.3" height="27.09" fill="#1c1c1c"/>
<rect x="115.05" y="640.37" width="1.3" height="19.13" fill="#1c1c1c"/>
<rect x="116.58" y="627.33" width="1.3" height="32.17" fill="#1c1c1c"/>
<rect x="118.11" y="628.17" width="1.3" height="31.33" fill="#1c1c1c"/>
<rect x="119.63" y="636.64" width="1.3" height="22.86" fill="#1c1c1c"/>
<rect x="121.16" y="619.71" width="1.3" height="39.79" fill="#1c1c1c"/>
<rect x="122.69" y="623.09" width="1.3" height="36.41" fill="#1c1c1c"/>
<rect x="124.21" y="629.87" width="1.3" height="29.63" fill="#1c1c1c"/>
<rect x="125.74" y="629.44" width="1.3" height="30.06" fill="#1c1c1c"/>
<rect x="127.27" y="623.09" width="1.3" height="36.41" fill="#1c1c1c"/>
<rect x="128.79" y="625.63" width="1.3" height="33.87" fill="#1c1c1c"/>
<rect x="130.32" y="636.89" width="1.3" height="22.61" fill="#1c1c1c"/>
<rect x="131.85" y="635.79" width="1.3" height="23.71" fill="#1c1c1c"/>
<rect x="133.38" y="624.19" width="1.3" height="35.31" fill="#1c1c1c"/>
<rect x="134.9" y="634.1" width="1.3" height="25.4" fill="#1c1c1c"/>
<rect x="136.43" y="635.79" width="1.3" height="23.71" fill="#1c1c1c"/>
<rect x="137.96" y="638.33" width="1.3" height="21.17" fill="#1c1c1c"/>
<rect x="139.48" y="636.64" width="1.3" height="22.86" fill="#1c1c1c"/>
<rect x="141.01" y="634.61" width="1.3" height="24.89" fill="#1c1c1c"/>
<rect x="142.54" y="638.67" width="1.3" height="20.83" fill="#1c1c1c"/>
<rect x="144.06" y="642.74" width="1.3" height="16.76" fill="#1c1c1c"/>
<rect x="145.59" y="649.09" width="1.3" height="10.41" fill="#1c1c1c"/>
<rect x="147.12" y="647.9" width="1.3" height="11.6" fill="#1c1c1c"/>
<rect x="148.65" y="646.21" width="1.3" height="13.29" fill="#1c1c1c"/>
<rect x="150.17" y="648.49" width="1.3" height="11.01" fill="#1c1c1c"/>
<rect x="151.7" y="640.87" width="1.3" height="18.63" fill="#1c1c1c"/>
<rect x="153.23" y="649.68" width="1.3" height="9.82" fill="#1c1c1c"/>
<rect x="154.75" y="646.21" width="1.3" height="13.29" fill="#1c1c1c"/>
<rect x="156.28" y="642.74" width="1.3" height="16.76" fill="#1c1c1c"/>
<rect x="157.81" y="647.9" width="1.3" height="11.6" fill="#1c1c1c"/>
<rect x="159.34" y="642.74" width="1.3" height="16.76" fill="#1c1c1c"/>
<rect x="160.86" y="648.49" width="1.3" height="11.01" fill="#1c1c1c"/>
<rect x="162.39" y="649.68" width="1.3" height="9.82" fill="#1c1c1c"/>
<rect x="163.92" y="649.09" width="1.3" height="10.41" fill="#1c1c1c"/>
<rect x="165.44" y="655.44" width="1.3" height="4.06" fill="#1c1c1c"/>
<rect x="166.97" y="653.15" width="1.3" height="6.35" fill="#1c1c1c"/>
<rect x="168.5" y="651.37" width="1.3" height="8.13" fill="#1c1c1c"/>
<rect x="170.02" y="650.78" width="1.3" height="8.72" fill="#1c1c1c"/>
<rect x="171.55" y="646.21" width="1.3" height="13.29" fill="#1c1c1c"/>
<rect x="173.08" y="652.3" width="1.3" height="7.2" fill="#1c1c1c"/>
<rect x="174.6" y="651.03" width="1.3" height="8.47" fill="#1c1c1c"/>
<rect x="176.13" y="651.46" width="1.3" height="8.04" fill="#1c1c1c"/>
<rect x="177.66" y="655.27" width="1.3" height="4.23" fill="#1c1c1c"/>
<rect x="179.19" y="651.46" width="1.3" height="8.04" fill="#1c1c1c"/>
<rect x="180.71" y="651.46" width="1.3" height="8.04" fill="#1c1c1c"/>
<rect x="182.24" y="651.03" width="1.3" height="8.47" fill="#1c1c1c"/>
<rect x="183.77" y="652.9" width="1.3" height="6.6" fill="#1c1c1c"/>
<rect x="185.29" y="650.78" width="1.3" height="8.72" fill="#1c1c1c"/>
<rect x="186.82" y="658.65" width="1.3" height="0.85" fill="#1c1c1c"/>
<rect x="188.35" y="655.27" width="1.3" height="4.23" fill="#1c1c1c"/>
<rect x="189.87" y="651.88" width="1.3" height="7.62" fill="#1c1c1c"/>
<rect x="191.4" y="653.57" width="1.3" height="5.93" fill="#1c1c1c"/>
<rect x="192.93" y="654.08" width="1.3" height="5.42" fill="#1c1c1c"/>
<rect x="194.46" y="658.65" width="1.3" height="0.85" fill="#1c1c1c"/>
<rect x="195.98" y="655.27" width="1.3" height="4.23" fill="#1c1c1c"/>
<rect x="197.51" y="650.78" width="1.3" height="8.72" fill="#1c1c1c"/>
<rect x="199.04" y="652.9" width="1.3" height="6.6" fill="#1c1c1c"/>
<rect x="200.56" y="658.15" width="1.3" height="1.35" fill="#1c1c1c"/>
<rect x="202.09" y="655.77" width="1.3" height="3.73" fill="#1c1c1c"/>
<rect x="203.62" y="654.67" width="1.3" height="4.83" fill="#1c1c1c"/>
<rect x="205.14" y="652.73" width="1.3" height="6.77" fill="#1c1c1c"/>
<rect x="206.67" y="654.08" width="1.3" height="5.42" fill="#1c1c1c"/>
<rect x="208.2" y="656.96" width="1.3" height="2.54" fill="#1c1c1c"/>
<rect x="209.73" y="656.96" width="1.3" height="2.54" fill="#1c1c1c"/>
<rect x="211.25" y="656.96" width="1.3" height="2.54" fill="#1c1c1c"/>
<rect x="212.78" y="656.37" width="1.3" height="3.13" fill="#1c1c1c"/>
<rect x="214.31" y="658.15" width="1.3" height="1.35" fill="#1c1c1c"/>
<rect x="215.83" y="659.08" width="1.3" height="0.42" fill="#1c1c1c"/>
<rect x="217.36" y="658.48" width="1.3" height="1.02" fill="#1c1c1c"/>
<rect x="218.89" y="657.81" width="1.3" height="1.69" fill="#1c1c1c"/>
<rect x="220.41" y="654.67" width="1.3" height="4.83" fill="#1c1c1c"/>
<rect x="221.94" y="658.15" width="1.3" height="1.35" fill="#1c1c1c"/>
<rect x="223.47" y="656.11" width="1.3" height="3.39" fill="#1c1c1c"/>
<rect x="225.0" y="658.65" width="1.3" height="0.85" fill="#1c1c1c"/>
<rect x="226.52" y="657.81" width="1.3" height="1.69" fill="#1c1c1c"/>
<rect x="228.05" y="653.57" width="1.3" height="5.93" fill="#1c1c1c"/>
<rect x="229.58" y="657.81" width="1.3" height="1.69" fill="#1c1c1c"/>
<rect x="231.1" y="658.65" width="1.3" height="0.85" fill="#1c1c1c"/>
<rect x="232.63" y="657.81" width="1.3" height="1.69" fill="#1c1c1c"/>
<rect x="234.16" y="658.65" width="1.3" height="0.85" fill="#1c1c1c"/>
<rect x="235.68" y="658.23" width="1.3" height="1.27" fill="#1c1c1c"/>
<rect x="237.21" y="658.65" width="1.3" height="0.85" fill="#1c1c1c"/>
<rect x="238.74" y="657.81" width="1.3" height="1.69" fill="#1c1c1c"/>
<rect x="240.27" y="658.65" width="1.3" height="0.85" fill="#1c1c1c"/>
<rect x="241.79" y="657.81" width="1.3" height="1.69" fill="#1c1c1c"/>
<rect x="243.32" y="658.65" width="1.3" height="0.85" fill="#1c1c1c"/>
<rect x="244.85" y="657.81" width="1.3" height="1.69" fill="#1c1c1c"/>
<rect x="246.37" y="658.23" width="1.3" height="1.27" fill="#1c1c1c"/>
<rect x="247.9" y="657.81" width="1.3" height="1.69" fill="#1c1c1c"/>
<rect x="249.43" y="659.08" width="1.3" height="0.42" fill="#1c1c1c"/>
<rect x="258.59" y="656.96" width="1.3" height="2.54" fill="#1c1c1c"/>
<line x1="75.0" y1="659.5" x2="259.74" y2="659.5" stroke="#555" stroke-width="1"/>
<line x1="72.5" y1="596.0" x2="75.5" y2="596.0" stroke="#808080" stroke-width="1"/>
<text x="57.1" y="599.2" font-size="11.2" text-anchor="start" font-weight="bold" fill="#000" stroke="#000" stroke-width="0.3" transform="rotate(0.3 57.1 599.2)" textLength="10.8" lengthAdjust="spacingAndGlyphs">75</text>
<line x1="72.5" y1="617.1666666666666" x2="75.5" y2="617.1666666666666" stroke="#808080" stroke-width="1"/>
<text x="57.1" y="620.4" font-size="11.2" text-anchor="start" font-weight="bold" fill="#000" stroke="#000" stroke-width="0.3" transform="rotate(0.3 57.1 620.4)" textLength="10.8" lengthAdjust="spacingAndGlyphs">50</text>
<line x1="72.5" y1="638.3333333333334" x2="75.5" y2="638.3333333333334" stroke="#808080" stroke-width="1"/>
<text x="57.1" y="641.5" font-size="11.2" text-anchor="start" font-weight="bold" fill="#000" stroke="#000" stroke-width="0.3" transform="rotate(0.3 57.1 641.5)" textLength="10.8" lengthAdjust="spacingAndGlyphs">25</text>
<line x1="72.5" y1="659.5" x2="75.5" y2="659.5" stroke="#808080" stroke-width="1"/>
<text x="62.5" y="662.7" font-size="11.2" text-anchor="start" font-weight="bold" fill="#000" stroke="#000" stroke-width="0.3" transform="rotate(0.3 62.5 662.7)" textLength="5.4" lengthAdjust="spacingAndGlyphs">0</text>
<line x1="75.5" y1="659.5" x2="75.5" y2="663.8" stroke="#666" stroke-width="1"/>
<text x="73.6" y="680.1" font-size="11.2" text-anchor="start" font-weight="bold" fill="#000" stroke="#000" stroke-width="0.3" transform="rotate(0.3 73.6 680.1)" textLength="5.4" lengthAdjust="spacingAndGlyphs">0</text>
<line x1="106.03999999999999" y1="659.5" x2="106.03999999999999" y2="663.8" stroke="#666" stroke-width="1"/>
<text x="101.2" y="680.1" font-size="11.2" text-anchor="start" font-weight="bold" fill="#000" stroke="#000" stroke-width="0.3" transform="rotate(0.3 101.2 680.1)" textLength="10.8" lengthAdjust="spacingAndGlyphs">20</text>
<line x1="136.57999999999998" y1="659.5" x2="136.57999999999998" y2="663.8" stroke="#666" stroke-width="1"/>
<text x="131.4" y="680.1" font-size="11.2" text-anchor="start" font-weight="bold" fill="#000" stroke="#000" stroke-width="0.3" transform="rotate(0.3 131.4 680.1)" textLength="10.8" lengthAdjust="spacingAndGlyphs">40</text>
<line x1="167.12" y1="659.5" x2="167.12" y2="663.8" stroke="#666" stroke-width="1"/>
<text x="161.7" y="680.1" font-size="11.2" text-anchor="start" font-weight="bold" fill="#000" stroke="#000" stroke-width="0.3" transform="rotate(0.3 161.7 680.1)" textLength="10.8" lengthAdjust="spacingAndGlyphs">60</text>
<line x1="197.66" y1="659.5" x2="197.66" y2="663.8" stroke="#666" stroke-width="1"/>
<text x="192.4" y="680.1" font-size="11.2" text-anchor="start" font-weight="bold" fill="#000" stroke="#000" stroke-width="0.3" transform="rotate(0.3 192.4 680.1)" textLength="10.8" lengthAdjust="spacingAndGlyphs">80</text>
<line x1="228.2" y1="659.5" x2="228.2" y2="663.8" stroke="#666" stroke-width="1"/>
<text x="220.8" y="680.1" font-size="11.2" text-anchor="start" font-weight="bold" fill="#000" stroke="#000" stroke-width="0.3" transform="rotate(0.3 220.8 680.1)" textLength="16.2" lengthAdjust="spacingAndGlyphs">100</text>
<line x1="258.74" y1="659.5" x2="258.74" y2="663.8" stroke="#666" stroke-width="1"/>
<text x="249.9" y="680.1" font-size="11.2" text-anchor="start" font-weight="bold" fill="#000" stroke="#000" stroke-width="0.3" transform="rotate(0.3 249.9 680.1)" textLength="16.2" lengthAdjust="spacingAndGlyphs">120</text>
<line x1="136.5" y1="597.2" x2="136.5" y2="670" stroke="#7a7a7a" stroke-width="2.4"/>
<text x="146.25" y="568" font-size="12.3" text-anchor="start" font-weight="normal" fill="#000" stroke="#000" stroke-width="0.3" textLength="111.3" lengthAdjust="spacingAndGlyphs">1516.3 ± 831.1 a.u.f.</text>
<text x="146.25" y="583" font-size="12.3" text-anchor="start" font-weight="normal" fill="#000" stroke="#000" stroke-width="0.3">40.7 ± 22.3 kbp</text>
<text x="146.25" y="598" font-size="12.3" text-anchor="start" font-weight="normal" fill="#000" stroke="#000" stroke-width="0.3" textLength="118.75" lengthAdjust="spacingAndGlyphs">0.5% signal-free ends</text>
<text x="112.5" y="701.6" font-size="13.9" text-anchor="start" font-weight="normal" fill="#000" stroke="#000" stroke-width="0.3" textLength="130" lengthAdjust="spacingAndGlyphs">telomere length (kbp)</text>
<line x1="298.3" y1="590.3" x2="298.3" y2="654.1" stroke="#1a1a1a" stroke-width="1.6"/>
<rect x="298.92" y="644.49" width="1.36" height="9.11" fill="#1c1c1c"/>
<rect x="300.52" y="634.75" width="1.36" height="18.85" fill="#1c1c1c"/>
<rect x="302.12" y="638.21" width="1.36" height="15.39" fill="#1c1c1c"/>
<rect x="303.72" y="632.55" width="1.36" height="21.05" fill="#1c1c1c"/>
<rect x="305.32" y="638.91" width="1.36" height="14.69" fill="#1c1c1c"/>
<rect x="306.92" y="625.88" width="1.36" height="27.72" fill="#1c1c1c"/>
<rect x="308.52" y="636.09" width="1.36" height="17.51" fill="#1c1c1c"/>
<rect x="310.12" y="627.68" width="1.36" height="25.92" fill="#1c1c1c"/>
<rect x="311.72" y="622.19" width="1.36" height="31.41" fill="#1c1c1c"/>
<rect x="313.32" y="633.97" width="1.36" height="19.63" fill="#1c1c1c"/>
<rect x="314.92" y="616.92" width="1.36" height="36.68" fill="#1c1c1c"/>
<rect x="316.52" y="629.8" width="1.36" height="23.8" fill="#1c1c1c"/>
<rect x="318.12" y="622.19" width="1.36" height="31.41" fill="#1c1c1c"/>
<rect x="319.72" y="621.64" width="1.36" height="31.96" fill="#1c1c1c"/>
<rect x="321.32" y="628.47" width="1.36" height="25.13" fill="#1c1c1c"/>
<rect x="322.92" y="634.75" width="1.36" height="18.85" fill="#1c1c1c"/>
<rect x="324.52" y="631.92" width="1.36" height="21.68" fill="#1c1c1c"/>
<rect x="326.12" y="626.27" width="1.36" height="27.33" fill="#1c1c1c"/>
<rect x="327.72" y="628.63" width="1.36" height="24.97" fill="#1c1c1c"/>
<rect x="329.32" y="626.27" width="1.36" height="27.33" fill="#1c1c1c"/>
<rect x="330.92" y="629.8" width="1.36" height="23.8" fill="#1c1c1c"/>
<rect x="332.52" y="622.19" width="1.36" height="31.41" fill="#1c1c1c"/>
<rect x="334.12" y="631.92" width="1.36" height="21.68" fill="#1c1c1c"/>
<rect x="335.72" y="626.66" width="1.36" height="26.94" fill="#1c1c1c"/>
<rect x="337.32" y="633.26" width="1.36" height="20.34" fill="#1c1c1c"/>
<rect x="338.92" y="631.61" width="1.36" height="21.99" fill="#1c1c1c"/>
<rect x="340.52" y="637.89" width="1.36" height="15.71" fill="#1c1c1c"/>
<rect x="342.12" y="639.46" width="1.36" height="14.14" fill="#1c1c1c"/>
<rect x="343.72" y="641.82" width="1.36" height="11.78" fill="#1c1c1c"/>
<rect x="345.32" y="638.68" width="1.36" height="14.92" fill="#1c1c1c"/>
<rect x="346.92" y="641.82" width="1.36" height="11.78" fill="#1c1c1c"/>
<rect x="348.52" y="625.56" width="1.36" height="28.04" fill="#1c1c1c"/>
<rect x="350.12" y="642.29" width="1.36" height="11.31" fill="#1c1c1c"/>
<rect x="351.72" y="642.84" width="1.36" height="10.76" fill="#1c1c1c"/>
<rect x="353.32" y="639.07" width="1.36" height="14.53" fill="#1c1c1c"/>
<rect x="354.92" y="640.48" width="1.36" height="13.12" fill="#1c1c1c"/>
<rect x="356.52" y="640.48" width="1.36" height="13.12" fill="#1c1c1c"/>
<rect x="358.12" y="638.13" width="1.36" height="15.47" fill="#1c1c1c"/>
<rect x="359.72" y="643.39" width="1.36" height="10.21" fill="#1c1c1c"/>
<rect x="361.32" y="639.07" width="1.36" height="14.53" fill="#1c1c1c"/>
<rect x="362.92" y="646.53" width="1.36" height="7.07" fill="#1c1c1c"/>
<rect x="364.52" y="639.86" width="1.36" height="13.74" fill="#1c1c1c"/>
<rect x="366.12" y="644.18" width="1.36" height="9.42" fill="#1c1c1c"/>
<rect x="367.72" y="647.08" width="1.36" height="6.52" fill="#1c1c1c"/>
<rect x="369.32" y="646.53" width="1.36" height="7.07" fill="#1c1c1c"/>
<rect x="370.92" y="641.43" width="1.36" height="12.17" fill="#1c1c1c"/>
<rect x="372.52" y="643.08" width="1.36" height="10.52" fill="#1c1c1c"/>
<rect x="374.12" y="646.53" width="1.36" height="7.07" fill="#1c1c1c"/>
<rect x="375.72" y="648.26" width="1.36" height="5.34" fill="#1c1c1c"/>
<rect x="377.32" y="645.83" width="1.36" height="7.77" fill="#1c1c1c"/>
<rect x="378.92" y="639.86" width="1.36" height="13.74" fill="#1c1c1c"/>
<rect x="380.52" y="650.07" width="1.36" height="3.53" fill="#1c1c1c"/>
<rect x="382.12" y="649.67" width="1.36" height="3.93" fill="#1c1c1c"/>
<rect x="383.72" y="649.36" width="1.36" height="4.24" fill="#1c1c1c"/>
<rect x="385.32" y="648.57" width="1.36" height="5.03" fill="#1c1c1c"/>
<rect x="386.92" y="646.3" width="1.36" height="7.3" fill="#1c1c1c"/>
<rect x="388.52" y="649.36" width="1.36" height="4.24" fill="#1c1c1c"/>
<rect x="390.12" y="647.08" width="1.36" height="6.52" fill="#1c1c1c"/>
<rect x="391.72" y="647.08" width="1.36" height="6.52" fill="#1c1c1c"/>
<rect x="393.32" y="645.35" width="1.36" height="8.25" fill="#1c1c1c"/>
<rect x="394.92" y="650.46" width="1.36" height="3.14" fill="#1c1c1c"/>
<rect x="396.52" y="647.63" width="1.36" height="5.97" fill="#1c1c1c"/>
<rect x="398.12" y="650.46" width="1.36" height="3.14" fill="#1c1c1c"/>
<rect x="399.72" y="647.08" width="1.36" height="6.52" fill="#1c1c1c"/>
<rect x="401.32" y="649.36" width="1.36" height="4.24" fill="#1c1c1c"/>
<rect x="402.92" y="652.26" width="1.36" height="1.34" fill="#1c1c1c"/>
<rect x="404.52" y="648.89" width="1.36" height="4.71" fill="#1c1c1c"/>
<rect x="406.12" y="650.14" width="1.36" height="3.46" fill="#1c1c1c"/>
<rect x="407.72" y="649.67" width="1.36" height="3.93" fill="#1c1c1c"/>
<rect x="409.32" y="649.36" width="1.36" height="4.24" fill="#1c1c1c"/>
<rect x="410.92" y="648.26" width="1.36" height="5.34" fill="#1c1c1c"/>
<rect x="412.52" y="648.26" width="1.36" height="5.34" fill="#1c1c1c"/>
<rect x="414.12" y="651.09" width="1.36" height="2.51" fill="#1c1c1c"/>
<rect x="415.72" y="648.26" width="1.36" height="5.34" fill="#1c1c1c"/>
<rect x="417.32" y="650.46" width="1.36" height="3.14" fill="#1c1c1c"/>
<rect x="418.92" y="648.26" width="1.36" height="5.34" fill="#1c1c1c"/>
<rect x="420.52" y="649.67" width="1.36" height="3.93" fill="#1c1c1c"/>
<rect x="422.12" y="650.46" width="1.36" height="3.14" fill="#1c1c1c"/>
<rect x="423.72" y="651.64" width="1.36" height="1.96" fill="#1c1c1c"/>
<rect x="425.32" y="651.09" width="1.36" height="2.51" fill="#1c1c1c"/>
<rect x="426.92" y="650.46" width="1.36" height="3.14" fill="#1c1c1c"/>
<rect x="428.52" y="650.14" width="1.36" height="3.46" fill="#1c1c1c"/>
<rect x="430.12" y="652.26" width="1.36" height="1.34" fill="#1c1c1c"/>
<rect x="431.72" y="652.58" width="1.36" height="1.02" fill="#1c1c1c"/>
<rect x="433.32" y="652.26" width="1.36" height="1.34" fill="#1c1c1c"/>
<rect x="434.92" y="653.36" width="1.36" height="0.24" fill="#1c1c1c"/>
<rect x="436.52" y="653.36" width="1.36" height="0.24" fill="#1c1c1c"/>
<rect x="438.12" y="652.42" width="1.36" height="1.18" fill="#1c1c1c"/>
<rect x="439.72" y="652.03" width="1.36" height="1.57" fill="#1c1c1c"/>
<rect x="441.32" y="651.64" width="1.36" height="1.96" fill="#1c1c1c"/>
<rect x="442.92" y="651.24" width="1.36" height="2.36" fill="#1c1c1c"/>
<rect x="444.52" y="651.64" width="1.36" height="1.96" fill="#1c1c1c"/>
<rect x="446.12" y="651.24" width="1.36" height="2.36" fill="#1c1c1c"/>
<rect x="447.72" y="652.81" width="1.36" height="0.79" fill="#1c1c1c"/>
<rect x="449.32" y="653.21" width="1.36" height="0.39" fill="#1c1c1c"/>
<rect x="450.92" y="652.97" width="1.36" height="0.63" fill="#1c1c1c"/>
<rect x="452.52" y="653.36" width="1.36" height="0.24" fill="#1c1c1c"/>
<rect x="454.12" y="652.03" width="1.36" height="1.57" fill="#1c1c1c"/>
<rect x="455.72" y="653.29" width="1.36" height="0.31" fill="#1c1c1c"/>
<rect x="457.32" y="652.97" width="1.36" height="0.63" fill="#1c1c1c"/>
<rect x="458.92" y="653.29" width="1.36" height="0.31" fill="#1c1c1c"/>
<rect x="460.52" y="652.97" width="1.36" height="0.63" fill="#1c1c1c"/>
<rect x="462.12" y="653.21" width="1.36" height="0.39" fill="#1c1c1c"/>
<rect x="463.72" y="652.97" width="1.36" height="0.63" fill="#1c1c1c"/>
<rect x="465.32" y="653.29" width="1.36" height="0.31" fill="#1c1c1c"/>
<rect x="466.92" y="652.97" width="1.36" height="0.63" fill="#1c1c1c"/>
<rect x="468.52" y="653.29" width="1.36" height="0.31" fill="#1c1c1c"/>
<rect x="470.12" y="652.97" width="1.36" height="0.63" fill="#1c1c1c"/>
<rect x="471.72" y="653.21" width="1.36" height="0.39" fill="#1c1c1c"/>
<rect x="473.32" y="652.97" width="1.36" height="0.63" fill="#1c1c1c"/>
<rect x="474.92" y="653.29" width="1.36" height="0.31" fill="#1c1c1c"/>
<rect x="476.52" y="652.97" width="1.36" height="0.63" fill="#1c1c1c"/>
<rect x="478.12" y="653.29" width="1.36" height="0.31" fill="#1c1c1c"/>
<rect x="479.72" y="652.97" width="1.36" height="0.63" fill="#1c1c1c"/>
<rect x="482.92" y="653.29" width="1.36" height="0.31" fill="#1c1c1c"/>
<rect x="484.52" y="652.97" width="1.36" height="0.63" fill="#1c1c1c"/>
<rect x="487.72" y="652.97" width="1.36" height="0.63" fill="#1c1c1c"/>
<rect x="490.92" y="652.66" width="1.36" height="0.94" fill="#1c1c1c"/>
<line x1="297.8" y1="653.6" x2="491.3" y2="653.6" stroke="#555" stroke-width="1"/>
<line x1="295.3" y1="594.7" x2="298.3" y2="594.7" stroke="#808080" stroke-width="1"/>
<text x="278.8" y="598.1" font-size="10.9" text-anchor="start" font-weight="bold" fill="#000" stroke="#000" stroke-width="0.3" transform="rotate(0.3 278.8 598.1)" textLength="10.7" lengthAdjust="spacingAndGlyphs">75</text>
<line x1="295.3" y1="614.3333333333334" x2="298.3" y2="614.3333333333334" stroke="#808080" stroke-width="1"/>
<text x="278.8" y="617.7" font-size="10.9" text-anchor="start" font-weight="bold" fill="#000" stroke="#000" stroke-width="0.3" transform="rotate(0.3 278.8 617.7)" textLength="10.7" lengthAdjust="spacingAndGlyphs">50</text>
<line x1="295.3" y1="633.9666666666667" x2="298.3" y2="633.9666666666667" stroke="#808080" stroke-width="1"/>
<text x="278.8" y="637.4" font-size="10.9" text-anchor="start" font-weight="bold" fill="#000" stroke="#000" stroke-width="0.3" transform="rotate(0.3 278.8 637.4)" textLength="10.7" lengthAdjust="spacingAndGlyphs">25</text>
<line x1="295.3" y1="653.6" x2="298.3" y2="653.6" stroke="#808080" stroke-width="1"/>
<text x="284.1" y="657.0" font-size="10.9" text-anchor="start" font-weight="bold" fill="#000" stroke="#000" stroke-width="0.3" transform="rotate(0.3 284.1 657.0)" textLength="5.3" lengthAdjust="spacingAndGlyphs">0</text>
<line x1="298.3" y1="653.6" x2="298.3" y2="656.1" stroke="#888" stroke-width="1"/>
<text x="296.6" y="672.6" font-size="10.9" text-anchor="start" font-weight="bold" fill="#000" stroke="#000" stroke-width="0.3" transform="rotate(0.3 296.6 672.6)" textLength="5.7" lengthAdjust="spacingAndGlyphs">0</text>
<line x1="330.3" y1="653.6" x2="330.3" y2="656.1" stroke="#888" stroke-width="1"/>
<text x="326.1" y="672.6" font-size="10.9" text-anchor="start" font-weight="bold" fill="#000" stroke="#000" stroke-width="0.3" transform="rotate(0.3 326.1 672.6)" textLength="11.3" lengthAdjust="spacingAndGlyphs">20</text>
<line x1="362.3" y1="653.6" x2="362.3" y2="656.1" stroke="#888" stroke-width="1"/>
<text x="357.4" y="672.6" font-size="10.9" text-anchor="start" font-weight="bold" fill="#000" stroke="#000" stroke-width="0.3" transform="rotate(0.3 357.4 672.6)" textLength="11.3" lengthAdjust="spacingAndGlyphs">40</text>
<line x1="394.3" y1="653.6" x2="394.3" y2="656.1" stroke="#888" stroke-width="1"/>
<text x="389.8" y="672.6" font-size="10.9" text-anchor="start" font-weight="bold" fill="#000" stroke="#000" stroke-width="0.3" transform="rotate(0.3 389.8 672.6)" textLength="11.3" lengthAdjust="spacingAndGlyphs">60</text>
<line x1="426.3" y1="653.6" x2="426.3" y2="656.1" stroke="#888" stroke-width="1"/>
<text x="421.2" y="672.6" font-size="10.9" text-anchor="start" font-weight="bold" fill="#000" stroke="#000" stroke-width="0.3" transform="rotate(0.3 421.2 672.6)" textLength="11.3" lengthAdjust="spacingAndGlyphs">80</text>
<line x1="458.3" y1="653.6" x2="458.3" y2="656.1" stroke="#888" stroke-width="1"/>
<text x="451.5" y="672.6" font-size="10.9" text-anchor="start" font-weight="bold" fill="#000" stroke="#000" stroke-width="0.3" transform="rotate(0.3 451.5 672.6)" textLength="17.0" lengthAdjust="spacingAndGlyphs">100</text>
<line x1="490.3" y1="653.6" x2="490.3" y2="656.1" stroke="#888" stroke-width="1"/>
<text x="483.3" y="672.6" font-size="10.9" text-anchor="start" font-weight="bold" fill="#000" stroke="#000" stroke-width="0.3" transform="rotate(0.3 483.3 672.6)" textLength="17.0" lengthAdjust="spacingAndGlyphs">120</text>
<line x1="340.8" y1="588.6" x2="340.8" y2="662" stroke="#7a7a7a" stroke-width="2.4"/>
<text x="397.5" y="567.5" font-size="12.3" text-anchor="start" font-weight="normal" fill="#000" stroke="#000" stroke-width="0.3" textLength="114.25" lengthAdjust="spacingAndGlyphs">1002.2 ± 794.9 a.u.f.</text>
<text x="397.5" y="582.5" font-size="12.3" text-anchor="start" font-weight="normal" fill="#000" stroke="#000" stroke-width="0.3">26.9 ± 21.3 kbp</text>
<text x="397.5" y="597.5" font-size="12.3" text-anchor="start" font-weight="normal" fill="#000" stroke="#000" stroke-width="0.3" textLength="121.25" lengthAdjust="spacingAndGlyphs">5.5% signal-free ends</text>
<text x="321.5" y="702.5" font-size="13.9" text-anchor="start" font-weight="normal" fill="#000" stroke="#000" stroke-width="0.3" textLength="131.5" lengthAdjust="spacingAndGlyphs">telomere length (kbp)</text>
<text x="42" y="474" font-size="12.8" text-anchor="start" font-weight="normal" fill="#000" stroke="#000" stroke-width="0.3" transform="rotate(-90 42 474)" textLength="59" lengthAdjust="spacingAndGlyphs">frequency</text>
<text x="42.6" y="654" font-size="12.8" text-anchor="start" font-weight="normal" fill="#000" stroke="#000" stroke-width="0.3" transform="rotate(-90 42.6 654)" textLength="59" lengthAdjust="spacingAndGlyphs">frequency</text>
<text x="13.1" y="493.6" font-size="16.5" text-anchor="start" font-weight="normal" fill="#000" stroke="#000" stroke-width="0.4" transform="rotate(-90 13.1 493.6)" textLength="90.2" lengthAdjust="spacingAndGlyphs">GFP shRNA</text>
<text x="13.6" y="676.7" font-size="16.5" text-anchor="start" font-weight="normal" fill="#000" stroke="#000" stroke-width="0.4" transform="rotate(-90 13.6 676.7)" textLength="123.6" lengthAdjust="spacingAndGlyphs">FANCG shRNA3</text>
</svg>
</body></html>
